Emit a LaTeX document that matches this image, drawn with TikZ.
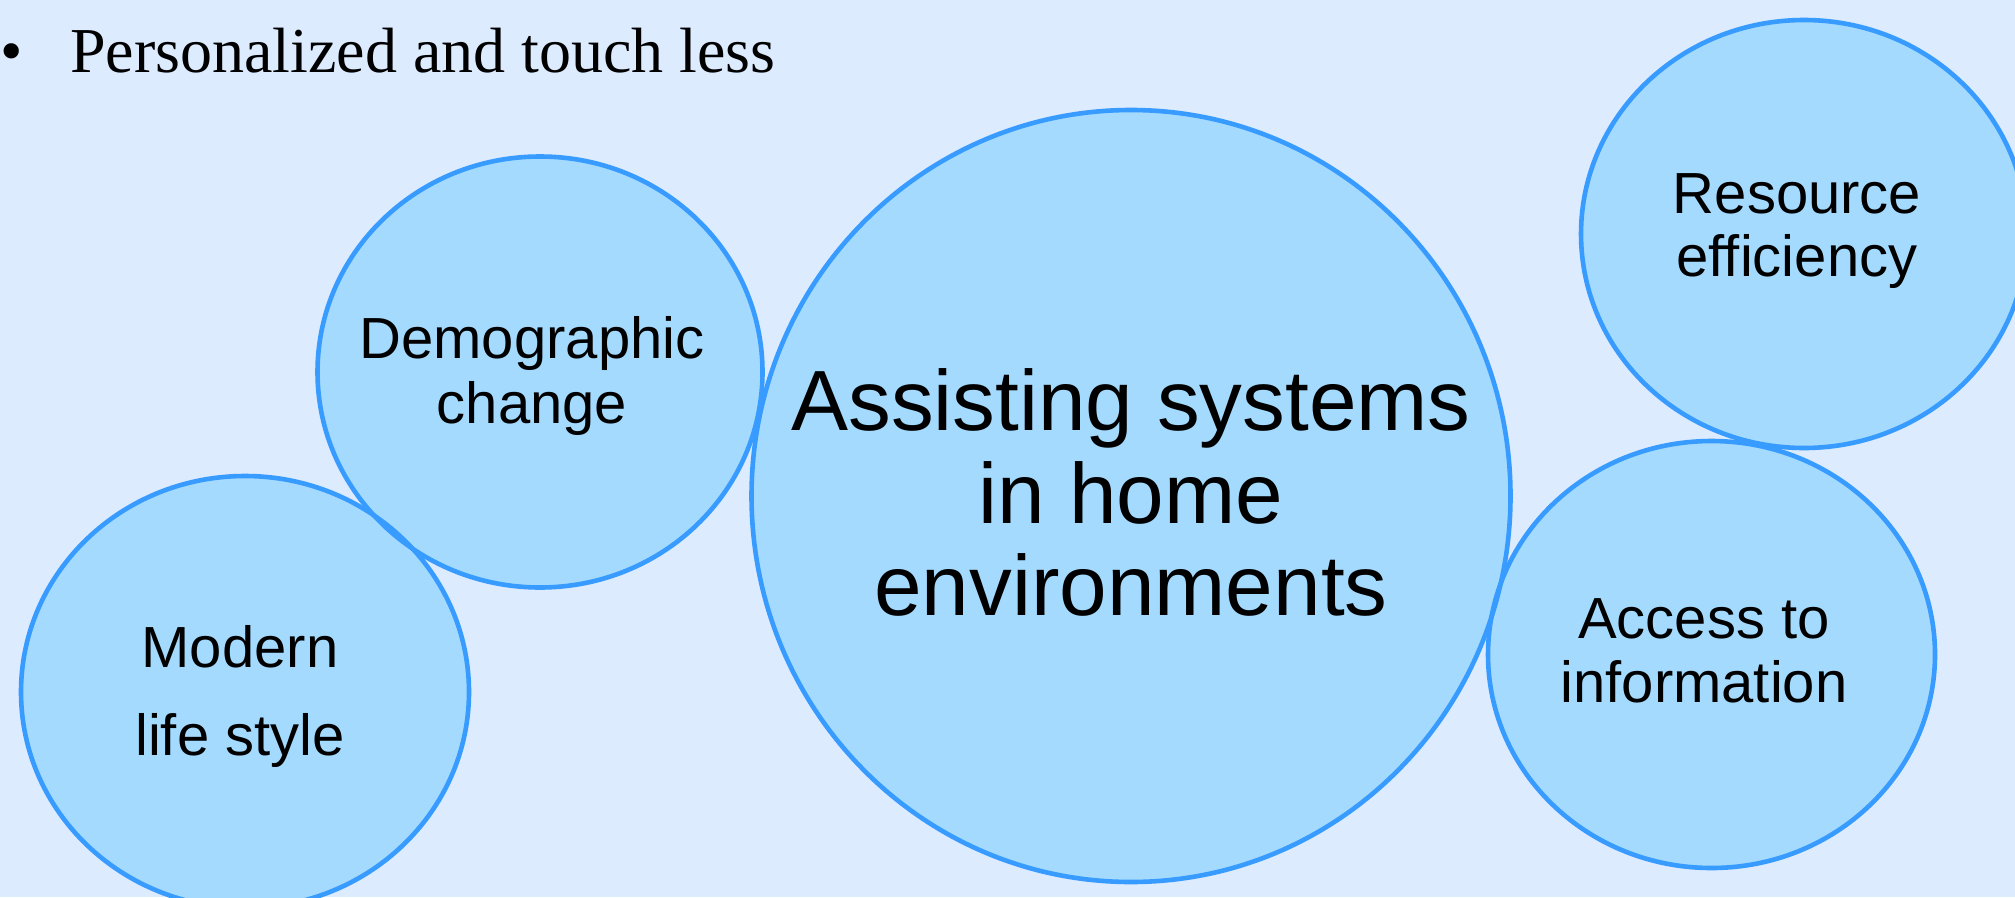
\documentclass[tikz,border=0pt]{standalone}
\usepackage{fontspec}
\setmainfont{Liberation Serif}
\newfontfamily\arialf{Liberation Sans}
\usetikzlibrary{shapes.geometric}
\definecolor{bgc}{RGB}{221,235,255}
\definecolor{fillc}{RGB}{163,218,253}
\definecolor{linec}{RGB}{56,155,255}
\newcommand{\bubfont}[2]{\arialf\fontsize{#1}{#2}\selectfont}
\begin{document}
\begin{tikzpicture}[x=1pt,y=-1pt,
  bubble/.style={ellipse, fill=fillc, inner sep=0pt, outer sep=0pt},
  rim/.style={draw=linec, line width=4.6pt},
  lbl/.style={align=center, inner sep=0pt, outer sep=0pt, text=black},
  ttl/.style={anchor=base west, inner sep=0pt, outer sep=0pt, font=\fontsize{64}{70}\selectfont}]
\fill[bgc] (0,0) rectangle (2015,897);
\useasboundingbox (0,0) rectangle (2015,897);
% fills
\node[bubble, minimum width=448pt, minimum height=432pt] (modern) at (245,692) {};
\node[bubble, minimum width=445pt, minimum height=431pt] (demo) at (540,372) {};
\node[bubble, minimum width=759pt, minimum height=772pt] (main) at (1131,496) {};
\node[bubble, minimum width=447pt, minimum height=427pt] (access) at (1711.5,654.5) {};
\node[bubble, minimum width=446pt, minimum height=428pt] (resource) at (1804,234) {};
% outlines
\draw[rim] (modern.center) ellipse [x radius=224pt, y radius=216pt];
\draw[rim] (demo.center) ellipse [x radius=222.5pt, y radius=215.5pt];
\draw[rim] (main.center) ellipse [x radius=379.5pt, y radius=386pt];
\draw[rim] (access.center) ellipse [x radius=223.5pt, y radius=213.5pt];
\draw[rim] (resource.center) ellipse [x radius=223pt, y radius=214pt];
% labels
\node[lbl, font=\bubfont{85.5}{92.5}] (maintxt) at (1131,492.5) {Assisting systems\\in home\\environments};
\node[lbl, font=\bubfont{58}{65}] (demotxt) at (532,376) {Demographic\\change};
\node[lbl, font=\bubfont{58}{88}] (moderntxt) at (240,696) {Modern\\life style};
\node[lbl, font=\bubfont{58}{63}] (resourcetxt) at (1797,231) {Resource\\efficiency};
\node[lbl, font=\bubfont{58}{64}] (accesstxt) at (1704,651) {Access to\\information};
% title
\node[ttl] (bul) at (0,72) {•};
\node[ttl] (title) at (70,72) {Personalized and touch less};
\end{tikzpicture}
\end{document}
